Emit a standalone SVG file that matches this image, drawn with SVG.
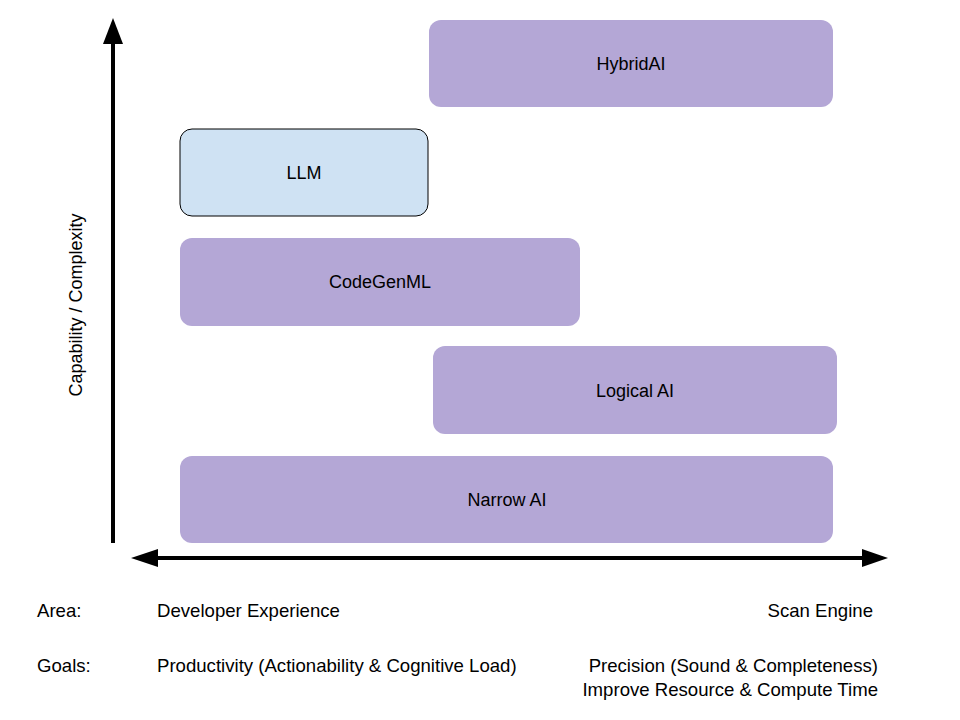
<svg xmlns="http://www.w3.org/2000/svg" width="960" height="720" viewBox="0 0 960 720">
<defs>
<style>
.box{fill:#b4a7d6;stroke:none}
.llm{fill:#cfe2f3;stroke:#000;stroke-width:1}
text{font-family:"Liberation Sans",Arial,sans-serif;font-size:18px;fill:#000}
.b{font-size:18.6px}
.c{text-anchor:middle}
.r{text-anchor:end}
.axis{stroke:#000;stroke-width:4;fill:none}
.head{fill:#000}
</style>
</defs>
<rect width="960" height="720" fill="#fff"/>
<g id="connectors">
<line class="axis" x1="113" y1="543" x2="113" y2="40"/>
<polygon class="head" points="113,18 103,44 123,44"/>
<line class="axis" x1="150" y1="558" x2="870" y2="558"/>
<polygon class="head" points="131,558 158,549 158,567"/>
<polygon class="head" points="888,558 862,549 862,567"/>
</g>
<g id="hybridai"><rect class="box" x="429" y="20" width="404" height="87" rx="12"/><text class="c" x="631" y="70">HybridAI</text></g>
<g id="llm"><rect class="llm" x="180" y="129" width="248" height="87" rx="12"/><text class="c" x="304" y="179">LLM</text></g>
<g id="codegenml"><rect class="box" x="180" y="238" width="400" height="88" rx="12"/><text class="c" x="380" y="288">CodeGenML</text></g>
<g id="logicalai"><rect class="box" x="433" y="346" width="404" height="88" rx="12"/><text class="c" x="635" y="397">Logical AI</text></g>
<g id="narrowai"><rect class="box" x="180" y="456" width="653" height="87" rx="12"/><text class="c" x="507" y="506">Narrow AI</text></g>
<g id="labels">
<text class="c" transform="translate(82,305) rotate(-90)">Capability / Complexity</text>
<text class="b" x="37" y="617">Area:</text>
<text class="b" x="157" y="617">Developer Experience</text>
<text class="b r" x="873" y="617">Scan Engine</text>
<text class="b" x="37" y="672">Goals:</text>
<text class="b" x="157" y="672">Productivity (Actionability &amp; Cognitive Load)</text>
<text class="b r" x="878" y="672">Precision (Sound &amp; Completeness)</text>
<text class="b r" x="878" y="696">Improve Resource &amp; Compute Time</text>
</g>
</svg>
